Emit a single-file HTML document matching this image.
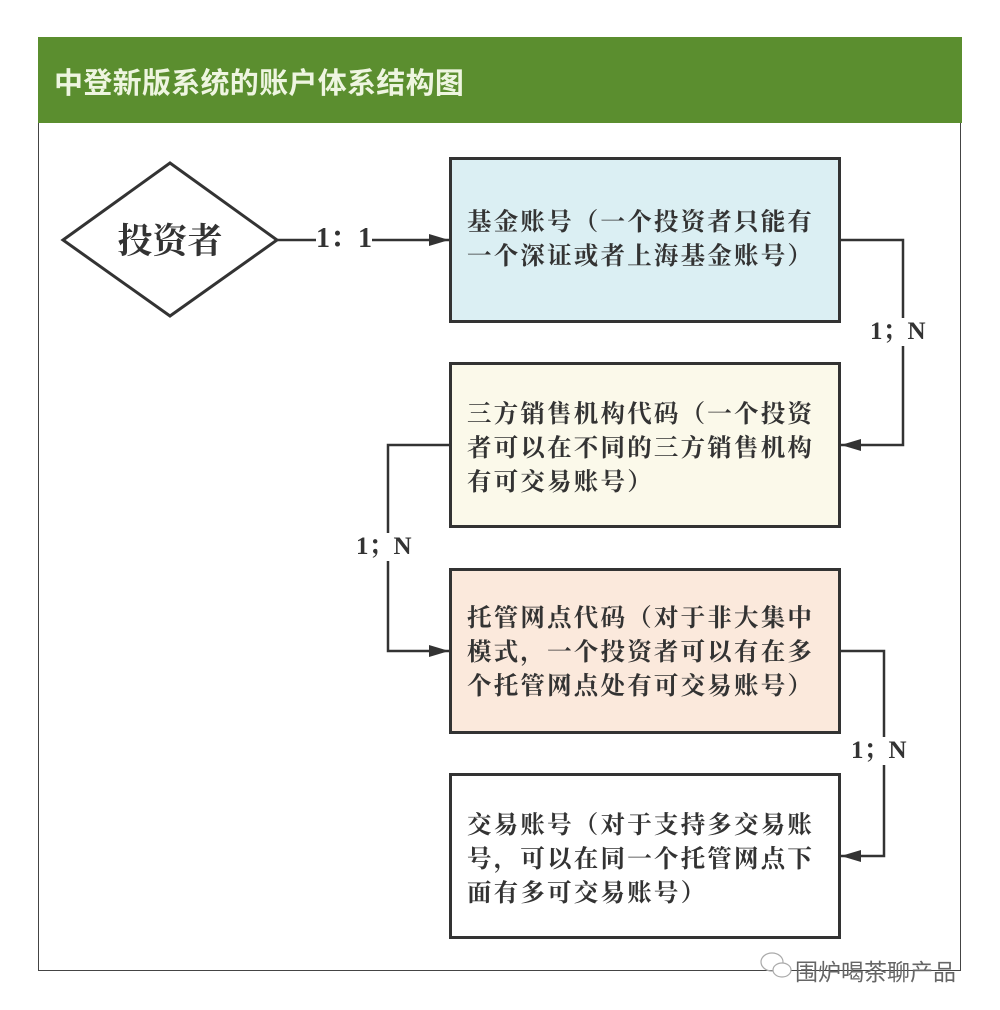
<!DOCTYPE html>
<html><head><meta charset="utf-8"><style>
body{margin:0;width:1000px;height:1010px;background:#fff;position:relative;overflow:hidden;font-family:"Liberation Serif","Noto Serif CJK SC",serif;}
.frame{position:absolute;left:38px;top:37px;width:923px;height:934px;border:1.5px solid #444;box-sizing:border-box;}
.hdr{position:absolute;left:38px;top:37px;width:924px;height:86px;background:#5b8e2f;}
.hdr span{position:absolute;left:16px;top:23px;font-size:29px;color:#eef5e0;font-family:"Noto Sans CJK SC",sans-serif;font-weight:bold;letter-spacing:0.3px;}
.box{position:absolute;left:449px;width:392px;height:166px;border:3px solid #333;box-sizing:border-box;}
.box div{position:absolute;left:15px;font-size:24.5px;font-weight:bold;color:#333;line-height:34px;letter-spacing:2.2px;}
.lbl{position:absolute;font-size:25px;font-weight:bold;color:#333;background:#fff;line-height:28px;}
.wm{position:absolute;left:795px;top:953px;font-size:23px;color:#666;font-family:"Noto Sans CJK SC",sans-serif;}
</style></head><body>
<div class="frame"></div>
<div class="hdr"><span>中登新版系统的账户体系结构图</span></div>
<svg width="1000" height="1010" style="position:absolute;left:0;top:0">
<defs>
<marker id="b" viewBox="0 0 20 12" markerWidth="20" markerHeight="12" refX="20" refY="6" orient="auto" markerUnits="userSpaceOnUse"><path d="M0,0 L20,6 L0,12z" fill="#333"/></marker></defs>
<polygon points="63,240 170,163 277,240 170,316" fill="#fff" stroke="#333" stroke-width="3"/>
<text x="170" y="253" font-size="35" font-weight="bold" text-anchor="middle" fill="#333" font-family="Liberation Serif,Noto Serif CJK SC,serif">投资者</text>
<line x1="277" y1="240" x2="449" y2="240" stroke="#333" stroke-width="2.5" marker-end="url(#b)"/>
<polyline points="841,240 903,240 903,445 841,445" fill="none" stroke="#333" stroke-width="2.5" marker-end="url(#b)"/>
<polyline points="449,445 388,445 388,651 449,651" fill="none" stroke="#333" stroke-width="2.5" marker-end="url(#b)"/>
<polyline points="841,651 884,651 884,856 841,856" fill="none" stroke="#333" stroke-width="2.5" marker-end="url(#b)"/>
<g fill="none" stroke="#aaa" stroke-width="1.2"><ellipse cx="772" cy="962" rx="11" ry="9"/><ellipse cx="782" cy="970" rx="9" ry="7" fill="#fff"/></g>
</svg>
<div class="lbl" style="left:316px;top:225px;font-size:28px;">1：1</div>
<div class="lbl" style="left:870px;top:318px;">1；N</div>
<div class="lbl" style="left:356px;top:533px;">1；N</div>
<div class="lbl" style="left:851px;top:737px;">1；N</div>
<div class="box" style="top:157px;background:#dbeff3"><div style="top:46px">基金账号（一个投资者只能有<br>一个深证或者上海基金账号）</div></div>
<div class="box" style="top:362px;background:#fbf9ea"><div style="top:33px">三方销售机构代码（一个投资<br>者可以在不同的三方销售机构<br>有可交易账号）</div></div>
<div class="box" style="top:568px;background:#fbe9dc"><div style="top:31px">托管网点代码（对于非大集中<br>模式，一个投资者可以有在多<br>个托管网点处有可交易账号）</div></div>
<div class="box" style="top:773px;background:#fff"><div style="top:33px">交易账号（对于支持多交易账<br>号，可以在同一个托管网点下<br>面有多可交易账号）</div></div>
<div class="wm">围炉喝茶聊产品</div>
</body></html>
